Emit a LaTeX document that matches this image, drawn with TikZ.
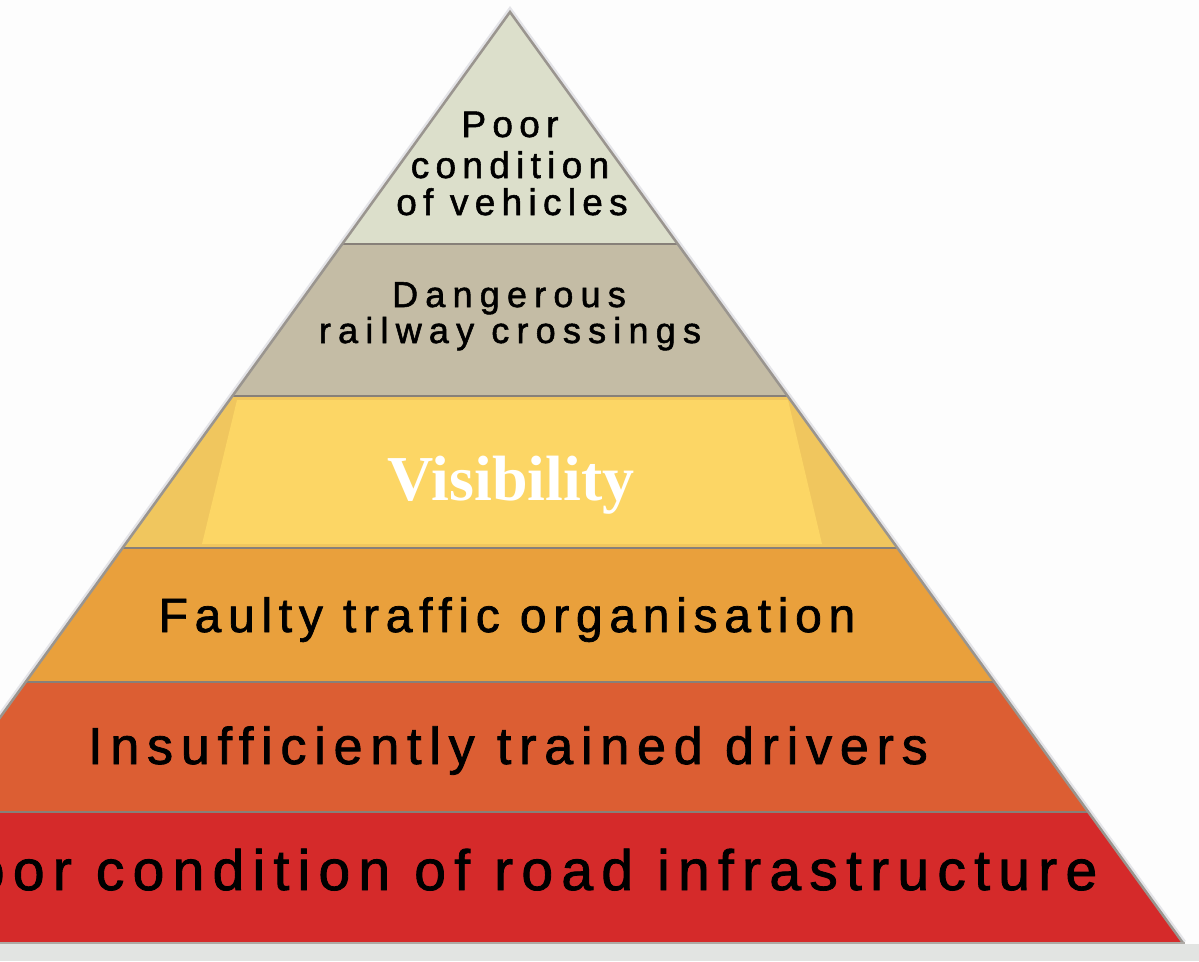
\documentclass[tikz,border=0pt]{standalone}
\usepackage{fontspec}
\setmainfont{Liberation Sans}[FakeBold=1.5]
\newfontfamily\visfont{Liberation Serif}
\definecolor{bgc}{HTML}{FDFDFD}
\definecolor{botc}{HTML}{E2E4E2}
\definecolor{halo}{HTML}{E4E4E8}
\definecolor{edgec}{HTML}{9A958F}
\definecolor{sepc}{HTML}{878079}
\definecolor{cA}{HTML}{DCDFCB}
\definecolor{cB}{HTML}{C4BCA5}
\definecolor{cC}{HTML}{F0C65E}
\definecolor{cCin}{HTML}{FCD665}
\definecolor{cD}{HTML}{E9A03C}
\definecolor{cE}{HTML}{DC5E33}
\definecolor{cF}{HTML}{D52A2A}
\begin{document}
\begin{tikzpicture}[x=1pt,y=-1pt,
  lbl/.style={inner sep=0pt,anchor=base,text=black},
  sepline/.style={draw=sepc,line width=2.5pt}]
\useasboundingbox (0,0) rectangle (1199,961);
\fill[bgc] (0,0) rectangle (1199,961);
\fill[botc] (0,944) rectangle (1199,961);
\begin{scope}
\clip (0,0) rectangle (1199,961);
\draw[halo,line width=7pt,line join=miter] (-163,943) -- (510,12) -- (1183,943);
\begin{scope}
\clip (510,12) -- (1183,943) -- (-163,943) -- cycle;
\fill[cA] (-200,0) rectangle (1300,244);
\fill[cB] (-200,244) rectangle (1300,396);
\fill[cC] (-200,396) rectangle (1300,548);
\fill[cCin] (237,400) -- (788,400) -- (822,544) -- (202,544) -- cycle;
\fill[cD] (-200,548) rectangle (1300,682);
\fill[cE] (-200,682) rectangle (1300,812);
\fill[cF] (-200,812) rectangle (1300,943);
\draw[sepline] (-200,244) -- (1300,244);
\draw[sepline] (-200,396) -- (1300,396);
\draw[sepline] (-200,548) -- (1300,548);
\draw[sepline] (-200,682) -- (1300,682);
\draw[sepline] (-200,812) -- (1300,812);
\end{scope}
\draw[edgec,line width=2.5pt,line join=miter] (-163,943) -- (510,12) -- (1183,943);
\draw[edgec!80,line width=2pt] (-200,943) -- (1185,943);
% labels
\node[lbl,font=\fontsize{37}{40}\selectfont\addfontfeature{LetterSpace=17}] (t1a) at (510,137) {Poor};
\node[lbl,font=\fontsize{37}{40}\selectfont\addfontfeature{LetterSpace=17}] (t1b) at (510,178) {condition};
\node[lbl,font=\fontsize{37}{40}\selectfont\addfontfeature{LetterSpace=17}] (t1c) at (512,215) {of vehicles};
\node[lbl,font=\fontsize{36}{40}\selectfont\addfontfeature{LetterSpace=20}] (t2a) at (509,307) {Dangerous};
\node[lbl,font=\fontsize{36}{40}\selectfont\addfontfeature{LetterSpace=20}] (t2b) at (510,343) {railway crossings};
\node[lbl,text=white,font=\fontsize{64}{70}\selectfont\visfont\bfseries] (t3) at (511,500) {Visibility};
\node[lbl,font=\fontsize{48}{52}\selectfont\addfontfeature{LetterSpace=14}] (t4) at (507,632) {Faulty traffic organisation};
\node[lbl,font=\fontsize{52}{56}\selectfont\addfontfeature{LetterSpace=15}] (t5) at (508,764) {Insufficiently trained drivers};
\node[lbl,font=\fontsize{57}{60}\selectfont\addfontfeature{LetterSpace=14.5}] (t6) at (512,890) {Poor condition of road infrastructure};
\end{scope}
\end{tikzpicture}
\end{document}
